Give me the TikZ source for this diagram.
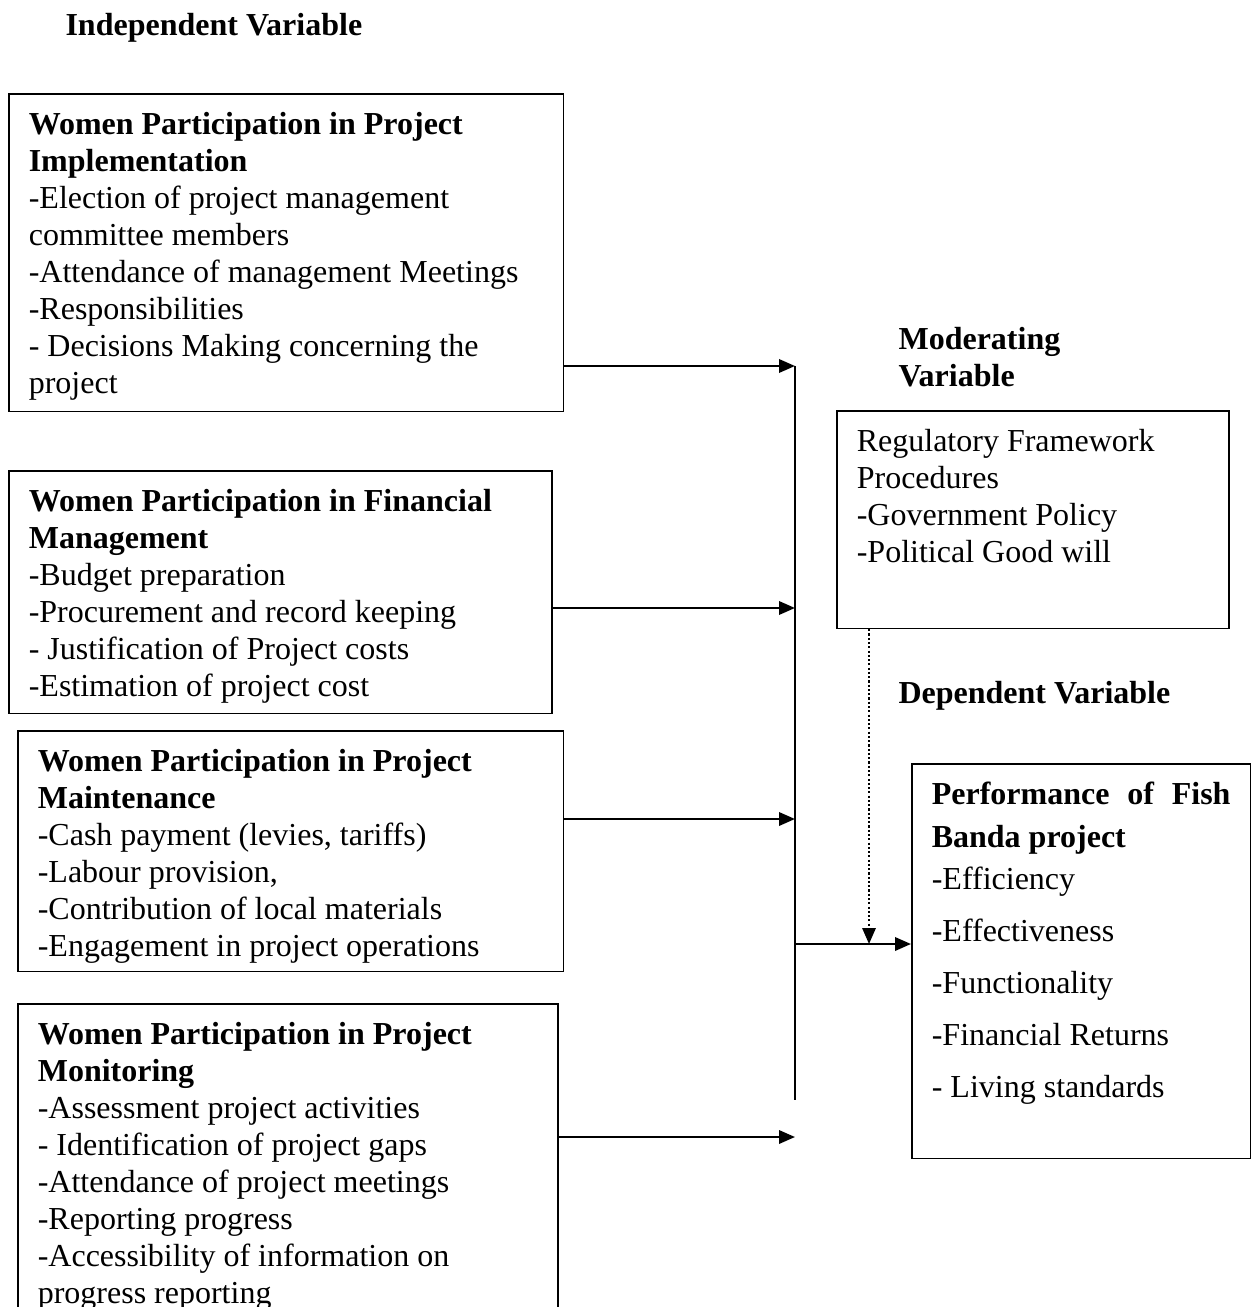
\documentclass[tikz,border=0pt]{standalone}
\usepackage{fontspec}
\setmainfont{Liberation Serif}
\usetikzlibrary{arrows.meta}

\begin{document}
\begin{tikzpicture}[x=0.375pt, y=-0.375pt,
    every node/.style={font=\fontsize{12}{13.875}\selectfont},
    varbox/.style={draw, line width=0.6pt, anchor=north west, align=left,
        inner xsep=7.5pt, inner ysep=0pt, text height=15.2pt,
        execute at begin node={\spaceskip=0pt\xspaceskip=0pt\relax}},
    heading/.style={anchor=base west, align=left, inner sep=0pt,
        font=\fontsize{12}{13.875}\selectfont\bfseries},
    flow/.style={-{Triangle[length=6pt, width=5pt]}, line width=0.9pt},
    modflow/.style={flow, line width=0.8pt, dash pattern=on 0.8pt off 0.8pt},
    bus/.style={line width=0.75pt}]

    % Page frame
    \useasboundingbox (0,0) rectangle (1257,1307);
    \clip (0,0) rectangle (1257,1307);

    % Headings
    \node[heading] (indep) at (65,36) {Independent Variable};
    \node[heading] (modhead) at (898,387) {Moderating\\ Variable};
    \node[heading] (dephead) at (898,703) {Dependent Variable};

    % Independent variables
    \node[varbox, text width=193pt, text depth=103.9pt] (impl) at (8,93)
        {\textbf{Women Participation in Project}\\ \textbf{Implementation}\\
         -Election of project management\\ committee members\\
         -Attendance of management Meetings\\ -Responsibilities\\
         - Decisions Making concerning the\\ project};
    \node[varbox, text width=188.6pt, text depth=75.75pt] (fin) at (8,470)
        {\textbf{Women Participation in Financial}\\ \textbf{Management}\\
         -Budget preparation\\ -Procurement and record keeping\\
         - Justification of Project costs\\ -Estimation of project cost};
    \node[varbox, text width=189.7pt, text depth=75pt] (maint) at (17,730)
        {\textbf{Women Participation in Project}\\ \textbf{Maintenance}\\
         -Cash payment (levies, tariffs)\\ -Labour provision,\\
         -Contribution of local materials\\ -Engagement in project operations};
    \node[varbox, text width=187.5pt, text depth=120pt] (monit) at (17,1003)
        {\textbf{Women Participation in Project}\\ \textbf{Monitoring}\\
         -Assessment project activities\\ - Identification of project gaps\\
         -Attendance of project meetings\\ -Reporting progress\\
         -Accessibility of information on\\ progress reporting};

    % Moderating variable
    \node[varbox, text width=132pt, text depth=66.4pt] (mod) at (836,410)
        {Regulatory Framework\\ Procedures\\ -Government Policy\\ -Political Good will};

    % Dependent variable
    \node[varbox, text width=112pt, text depth=132.75pt] (perf) at (911,763)
        {\hbox to \linewidth{\bfseries Performance\hfill of\hfill Fish}\\[2.2pt]
         \textbf{Banda project}\\[1.9pt]
         -Efficiency\\[5.6pt] -Effectiveness\\[5.6pt] -Functionality\\[5.6pt]
         -Financial Returns\\[5.6pt] - Living standards};

    % Points on the collecting line
    \coordinate (bustop) at (795,366);
    \coordinate (j2) at (795,608);
    \coordinate (j3) at (795,819);
    \coordinate (j4) at (795,1137);
    \coordinate (hub) at (795,944);
    \coordinate (busend) at (795,1100);
    \coordinate (drop) at (869,944);

    % Connectors
    \draw[bus] (bustop) -- (busend);
    \draw[flow] (impl.east |- bustop) -- (bustop);
    \draw[flow] (fin.east |- j2) -- (j2);
    \draw[flow] (maint.east |- j3) -- (j3);
    \draw[flow] (monit.east |- j4) -- (j4);
    \draw[flow] (hub) -- (perf.west |- hub);
    \draw[modflow] (mod.south -| drop) -- (drop);

\end{tikzpicture}
\end{document}
